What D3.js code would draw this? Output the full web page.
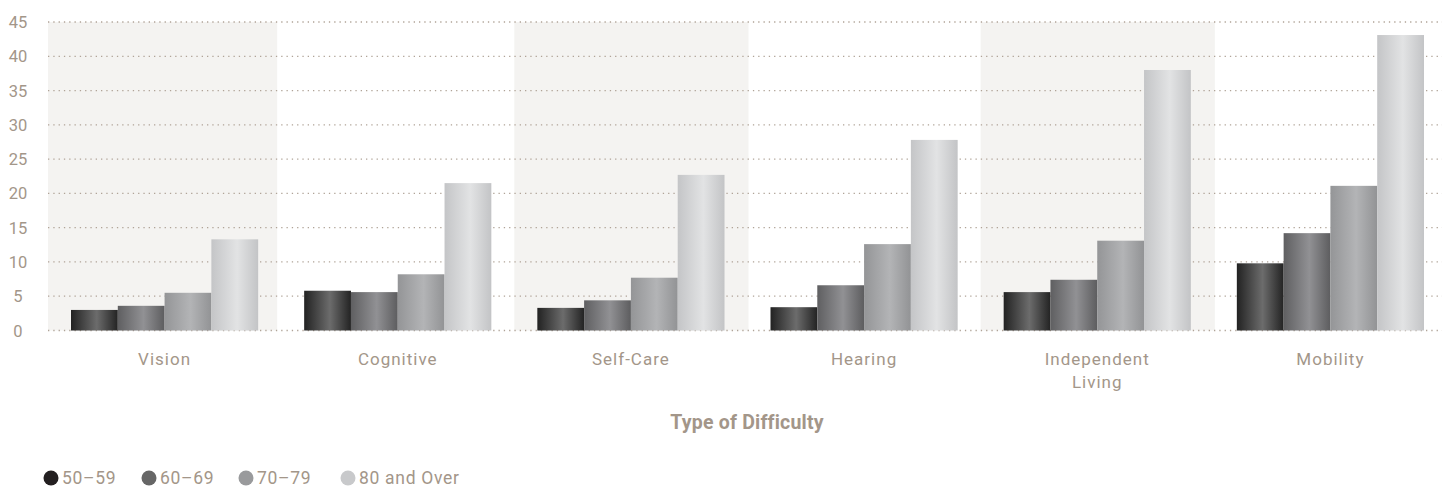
<!DOCTYPE html>
<meta charset="utf-8">
<script src="https://d3js.org/d3.v7.min.js"></script>
<style>
  body { margin: 0; background: #fff; overflow: hidden; }
  svg { display: block; }
  text { font-family: Roboto, "Noto Sans", sans-serif; fill: #a39689; }
</style>
<div id="chart"></div>
<script>
// data
const categories = ["Vision", "Cognitive", "Self-Care", "Hearing", "Independent Living", "Mobility"];
const ageGroups = ["50\u201359", "60\u201369", "70\u201379", "80 and Over"];
const age50 = [3.0, 5.8, 3.3, 3.4, 5.6, 9.8];
const age60 = [3.6, 5.6, 4.4, 6.6, 7.4, 14.2];
const age70 = [5.5, 8.2, 7.7, 12.6, 13.1, 21.1];
const age80 = [13.3, 21.5, 22.7, 27.8, 38.0, 43.1];
const yTicks = [0, 5, 10, 15, 20, 25, 30, 35, 40, 45];

const series = [age50, age60, age70, age80];
const data = categories.map((c, i) => ({cat: c, values: series.map((s, j) => ({key: ageGroups[j], value: s[i]}))}));

const W = 1442, H = 489;
const plot = {left: 48, right: 1447, top: 22, bottom: 330.5};

const svg = d3.select("#chart").append("svg")
    .attr("width", W).attr("height", H);

// gradients for the bars
const grads = [
  ["#222222", "#6c6c6c", "#232323"],
  ["#5f5f61", "#919194", "#5d5d5f"],
  ["#949597", "#b3b4b6", "#929395"],
  ["#c4c5c7", "#e2e3e4", "#c3c4c6"]
];
const legendCol = ["#231f20", "#666666", "#999a9c", "#c8c9cb"];
const defs = svg.append("defs");
grads.forEach((g, i) => {
  const lg = defs.append("linearGradient").attr("id", "g" + i)
      .attr("x1", "0%").attr("x2", "100%").attr("y1", "0%").attr("y2", "0%");
  lg.append("stop").attr("offset", "0%").attr("stop-color", g[0]);
  lg.append("stop").attr("offset", "55%").attr("stop-color", g[1]);
  lg.append("stop").attr("offset", "100%").attr("stop-color", g[2]);
});

const x0 = d3.scaleBand().domain(categories).range([plot.left, plot.right]).padding(0);
const x1 = d3.scaleBand().domain(ageGroups).range([23, x0.bandwidth() - 23]).padding(0);
const y = d3.scaleLinear().domain([0, 45]).range([plot.bottom, plot.top]);

// alternating shaded columns
svg.append("g").selectAll("rect")
  .data(categories.filter((d, i) => i % 2 === 0))
  .join("rect")
    .attr("x", d => x0(d))
    .attr("y", plot.top)
    .attr("width", (d, i) => i === 0 ? x0.bandwidth() - 4 : x0.bandwidth() + 1)
    .attr("height", plot.bottom - plot.top)
    .attr("fill", "#f4f3f1");

// dotted gridlines
svg.append("g").selectAll("line")
  .data(yTicks)
  .join("line")
    .attr("x1", plot.left).attr("x2", W)
    .attr("y1", d => y(d)).attr("y2", d => y(d))
    .attr("stroke", "#b0a397")
    .attr("stroke-width", 1.3)
    .attr("stroke-dasharray", "1.3,4");

// y labels
svg.append("g").selectAll("text")
  .data(yTicks)
  .join("text")
    .attr("x", 18)
    .attr("y", d => y(d) + 6)
    .attr("text-anchor", "middle")
    .style("font-size", "16.5px")
    .text(d => d);

// bars
const groups = svg.append("g").selectAll("g")
  .data(data)
  .join("g")
    .attr("transform", d => `translate(${x0(d.cat)},0)`);
groups.selectAll("rect")
  .data(d => d.values)
  .join("rect")
    .attr("x", d => x1(d.key))
    .attr("y", d => y(d.value))
    .attr("width", x1.bandwidth())
    .attr("height", d => y(0) - y(d.value))
    .attr("fill", (d, i) => `url(#g${i})`);

// category labels
const catLabels = svg.append("g").selectAll("text")
  .data(categories)
  .join("text")
    .attr("x", d => x0(d) + x0.bandwidth() / 2)
    .attr("y", 365)
    .attr("text-anchor", "middle")
    .style("font-size", "17px")
    .style("letter-spacing", "1px");
catLabels.each(function(d) {
  const words = d === "Independent Living" ? ["Independent", "Living"] : [d];
  d3.select(this).selectAll("tspan")
    .data(words)
    .join("tspan")
      .attr("x", x0(d) + x0.bandwidth() / 2)
      .attr("dy", (w, i) => i === 0 ? 0 : 23)
      .text(w => w);
});

// axis title
svg.append("text")
  .attr("x", 747)
  .attr("y", 429)
  .attr("text-anchor", "middle")
  .style("font-size", "19.5px")
  .style("font-weight", "bold")
  .style("letter-spacing", "0.2px")
  .text("Type of Difficulty");

// legend
const legendX = [51, 149, 246, 348];
const legend = svg.append("g").selectAll("g")
  .data(ageGroups)
  .join("g")
    .attr("transform", (d, i) => `translate(${legendX[i]},478)`);
legend.append("circle")
  .attr("r", 7.5)
  .attr("fill", (d, i) => legendCol[i]);
legend.append("text")
  .attr("x", 11)
  .attr("y", 6)
  .style("font-size", "17.5px")
  .style("letter-spacing", "0.7px")
  .text(d => d);
</script>
